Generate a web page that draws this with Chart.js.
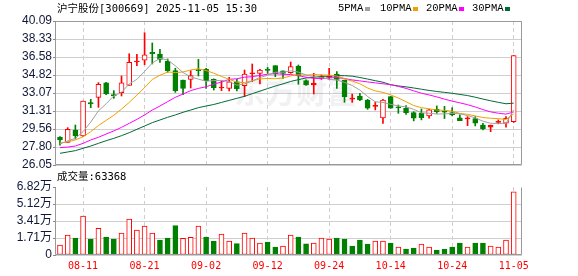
<!DOCTYPE html>
<html><head><meta charset="utf-8">
<script src="https://cdn.jsdelivr.net/npm/chart.js@4.4.1/dist/chart.umd.min.js"></script>
<style>
html,body{margin:0;padding:0;background:#fff;}
#wrap{position:relative;width:578px;height:276px;overflow:hidden;background:#fff;}
canvas{position:absolute;left:0;top:0;}
.t{position:absolute;white-space:pre;color:#000;line-height:14px;}
.cjk{font-family:'Noto Sans CJK SC';font-size:10.5px;}
.sq{position:absolute;width:5px;height:4px;}
</style></head><body>
<div id="wrap">
<canvas id="pc" width="578" height="276"></canvas>
<canvas id="vc" width="578" height="276"></canvas>
<div class="t" style="left:57px;top:1px;font-family:'DejaVu Sans Mono';font-size:10.5px;"><span class="cjk">沪宁股份</span>[300669] 2025-11-05 15:30</div>
<div class="t" style="left:338px;top:1px;font-family:'Liberation Mono';font-size:10.5px;">5PMA</div>
<div class="sq" style="left:365px;top:7px;background:#a0a0a0"></div>
<div class="t" style="left:380px;top:1px;font-family:'Liberation Mono';font-size:10.5px;">10PMA</div>
<div class="sq" style="left:413px;top:7px;background:#f0a000"></div>
<div class="t" style="left:426px;top:1px;font-family:'Liberation Mono';font-size:10.5px;">20PMA</div>
<div class="sq" style="left:459px;top:7px;background:#ff00ff"></div>
<div class="t" style="left:472px;top:1px;font-family:'Liberation Mono';font-size:10.5px;">30PMA</div>
<div class="sq" style="left:505px;top:7px;background:#006a35"></div>
<div class="t" style="left:57px;top:169px;font-family:'DejaVu Sans Mono';font-size:10.5px;"><span class="cjk">成交量</span>:63368</div>
</div>
<script>
// ---------- data ----------
const categories = ['08-06','08-07','08-08','08-11','08-12','08-13','08-14','08-15','08-18','08-19',
 '08-20','08-21','08-22','08-25','08-26','08-27','08-28','08-29','09-01','09-02',
 '09-03','09-04','09-05','09-08','09-09','09-10','09-11','09-12','09-15','09-16',
 '09-17','09-18','09-19','09-22','09-23','09-24','09-25','09-26','09-29','09-30',
 '10-09','10-10','10-13','10-14','10-15','10-16','10-17','10-20','10-21','10-22',
 '10-23','10-24','10-27','10-28','10-29','10-30','10-31','11-03','11-04','11-05'];
const dateTickLabels = ['08-11','08-21','09-02','09-12','09-24','10-14','10-24','11-05'];
const open  = [28.75,28.26,29.46,28.88,32.13,32.65,34.05,32.91,33.10,33.82,36.09,36.26,37.04,36.87,36.16,35.25,34.34,34.40,35.35,35.38,
 34.40,33.56,33.52,34.17,33.79,34.95,34.99,35.41,35.74,35.22,35.05,35.70,34.27,33.85,34.50,34.60,34.92,34.33,32.48,32.78,
 32.39,31.77,30.63,32.71,31.68,31.58,31.16,31.09,30.84,31.48,31.28,31.16,30.64,30.54,30.58,29.95,29.73,30.21,30.12,30.28];
const high  = [28.81,29.69,29.95,32.29,32.45,34.08,34.10,33.30,34.73,36.90,36.84,38.95,37.95,37.33,36.39,35.48,34.34,35.25,36.35,35.48,
 34.45,34.24,34.60,34.40,35.31,35.90,35.38,35.57,35.74,35.22,36.09,35.80,34.35,34.99,34.83,35.48,35.15,34.33,32.97,33.04,
 32.45,32.19,32.45,32.75,31.90,31.84,31.25,31.51,31.48,31.81,31.77,31.64,30.95,30.77,30.77,30.12,29.95,30.45,30.77,36.73];
const low   = [27.99,28.23,28.59,28.81,31.64,31.67,32.90,32.55,32.78,33.82,35.74,35.83,35.90,36.06,35.09,33.13,32.91,33.56,34.73,33.52,
 33.36,33.30,33.27,33.27,32.71,34.17,33.96,34.99,34.66,34.50,34.99,33.92,33.80,32.97,34.40,34.40,33.52,32.16,32.16,32.33,
 31.48,31.42,30.11,31.58,31.09,30.97,30.35,30.45,30.61,31.09,30.58,30.84,30.38,29.89,29.86,29.47,29.30,30.06,29.73,30.20];
const close = [28.49,29.53,28.91,32.29,32.00,33.92,32.97,32.78,34.05,36.06,36.16,36.78,36.91,36.35,35.25,33.30,33.52,34.76,35.25,34.27,
 33.59,33.62,34.17,33.49,34.92,35.02,35.31,35.28,34.92,34.99,35.64,34.73,33.85,34.04,34.66,34.70,34.40,32.71,32.55,32.39,
 31.58,31.84,32.39,31.60,31.62,31.16,30.62,30.66,31.42,31.25,31.19,30.94,30.38,30.61,30.12,29.57,29.92,30.28,30.61,36.73];
const prevClose = 28.20;
const volume = [10030,20060,17050,39110,16050,26750,18050,16050,22060,36100,25070,29080,22060,15040,17050,29400,16700,17700,29080,18050,
 14040,21060,14040,11360,22060,17050,12030,13040,8020,9030,20060,18050,11200,12030,17050,16050,17050,16050,9030,15040,
 11030,14040,14040,12030,8020,6020,7020,11030,8020,5010,6020,8020,12030,8020,12030,12030,9030,8020,15040,63368];
const ma5  = [28.10,28.40,28.65,29.30,30.24,31.33,32.02,32.79,33.14,33.96,34.40,35.17,35.99,36.45,36.29,35.72,35.07,34.64,34.42,34.22,
 34.28,34.30,34.18,33.83,33.96,34.24,34.58,34.80,35.09,35.10,35.23,35.11,34.83,34.65,34.58,34.40,34.33,34.10,33.80,33.35,
 32.73,32.21,32.15,31.96,31.81,31.72,31.48,31.13,31.10,31.02,31.03,31.09,31.04,30.87,30.65,30.32,30.12,30.10,30.10,31.42];
const ma10 = [28.20,28.30,28.50,28.80,29.30,29.90,30.40,30.90,31.50,32.15,32.87,33.59,34.39,34.80,35.12,35.06,35.12,35.31,35.43,35.26,
 35.00,34.68,34.41,34.12,34.09,34.26,34.44,34.49,34.46,34.53,34.74,34.85,34.82,34.87,34.84,34.81,34.72,34.46,34.23,33.97,
 33.56,33.27,33.13,32.88,32.58,32.22,31.85,31.64,31.53,31.41,31.38,31.29,31.08,30.99,30.84,30.68,30.61,30.57,30.49,31.04];
const ma20 = [27.74,27.80,27.90,28.16,28.49,28.75,29.07,29.37,29.72,30.11,30.50,30.93,31.41,31.80,32.23,32.65,32.97,33.30,33.52,33.68,
 33.93,34.14,34.40,34.46,34.61,34.66,34.78,34.90,34.95,34.89,34.87,34.76,34.61,34.50,34.47,34.54,34.58,34.48,34.34,34.25,
 34.15,34.06,33.97,33.88,33.71,33.52,33.28,33.05,32.88,32.69,32.47,32.28,32.11,31.93,31.71,31.45,31.23,31.10,31.01,31.22];
const ma30 = [27.19,27.32,27.45,27.68,27.90,28.16,28.42,28.65,28.91,29.20,29.53,29.85,30.18,30.44,30.70,30.93,31.19,31.41,31.64,31.80,
 31.95,32.15,32.35,32.55,32.75,33.00,33.25,33.50,33.75,33.96,34.20,34.37,34.54,34.60,34.69,34.71,34.76,34.76,34.71,34.58,
 34.43,34.27,34.12,33.88,33.76,33.67,33.56,33.44,33.32,33.22,33.13,33.04,32.93,32.82,32.66,32.48,32.31,32.16,32.02,32.08];
const priceTicks = [26.05,27.80,29.56,31.31,33.07,34.82,36.58,38.33,40.09];
const volTicks = [0,17050,34100,51150,68200];
const volTickLabels = ['0','1.71万','3.41万','5.12万','6.82万'];

// ---------- styles ----------
const RED = '#ff0000', GREEN = '#008000', GRID = '#cfcfcf', FRAME = '#999999';
const TICKFONT = {family: "'Liberation Sans','Noto Sans CJK SC'", size: 12};
const XMIN = -0.52, XMAX = 60.08;
const tickPos = dateTickLabels.map(d => categories.indexOf(d));
const idx = categories.map((_, i) => i);
const up = idx.map(i => close[i] >= open[i]);
const volUp = idx.map(i => close[i] >= (i === 0 ? prevClose : close[i - 1]));

function framePlugin(drawTop) {
  return {
    id: 'frame',
    afterDraw(chart) {
      const {ctx, chartArea: a} = chart;
      const L = Math.round(a.left) - 0.5, R = Math.round(a.right) - 0.5;
      const T = Math.round(a.top) + 0.5, B = Math.round(a.bottom) - 0.5;
      ctx.save();
      ctx.strokeStyle = FRAME; ctx.lineWidth = 1;
      ctx.beginPath();
      if (drawTop) { ctx.moveTo(L, T); ctx.lineTo(R, T); }
      ctx.moveTo(L, T); ctx.lineTo(L, B); ctx.lineTo(R, B); ctx.lineTo(R, T);
      ctx.stroke();
      ctx.restore();
    }
  };
}
const watermark = {
  id: 'wm',
  beforeDatasetsDraw(chart) {
    const {ctx} = chart;
    ctx.save();
    ctx.fillStyle = 'rgba(120,120,140,0.10)';
    ctx.font = "bold 31px 'Noto Sans CJK SC'";
    ctx.textBaseline = 'middle';
    ctx.fillText('东方财富', 234, 91);
    ctx.restore();
  }
};

function xAxis(showLabels) {
  return {
    type: 'linear', min: XMIN, max: XMAX, offset: false, bounds: 'ticks',
    afterBuildTicks: s => { s.ticks = tickPos.map(v => ({value: v})); },
    afterFit: s => { s.height = showLabels ? 21 : 0; },
    grid: {color: GRID, lineWidth: 1, drawTicks: false, offset: false},
    border: {display: false, dash: [4, 3]},
    ticks: {
      display: showLabels, autoSkip: false, maxRotation: 0, padding: 5,
      color: RED, font: {family: "'DejaVu Sans Mono'", size: 10},
      callback: (v, i) => dateTickLabels[i]
    }
  };
}

// ---------- price chart ----------
new Chart(document.getElementById('pc'), {
  data: {
    datasets: [
      {type: 'line', label: '5PMA', data: idx.map(i => ({x: i, y: ma5[i]})), borderColor: '#a0a0a0', borderWidth: 1, pointRadius: 0, order: -1},
      {type: 'line', label: '10PMA', data: idx.map(i => ({x: i, y: ma10[i]})), borderColor: '#f0a000', borderWidth: 1, pointRadius: 0, order: -1},
      {type: 'line', label: '20PMA', data: idx.map(i => ({x: i, y: ma20[i]})), borderColor: '#ff00ff', borderWidth: 1, pointRadius: 0, order: -1},
      {type: 'line', label: '30PMA', data: idx.map(i => ({x: i, y: ma30[i]})), borderColor: '#006a35', borderWidth: 1, pointRadius: 0, order: -1},
      {type: 'bar', label: 'body', data: idx.map(i => ({x: i, y: [open[i], close[i]]})),
        backgroundColor: c => up[c.dataIndex] ? (Math.abs(close[c.dataIndex] - open[c.dataIndex]) < 0.2 ? RED : '#ffffff') : GREEN,
        borderColor: c => up[c.dataIndex] ? RED : GREEN,
        borderWidth: 1, borderSkipped: false, barThickness: 5, minBarLength: 1, grouped: false, order: 0},
      {type: 'bar', label: 'wick', data: idx.map(i => ({x: i, y: [low[i], high[i]]})),
        backgroundColor: c => up[c.dataIndex] ? RED : GREEN,
        borderWidth: 0, barThickness: 1, grouped: false, order: 1}
    ]
  },
  options: {
    responsive: false, animation: false, devicePixelRatio: 1,
    layout: {padding: {left: 0, right: 56, top: 21, bottom: 111}},
    plugins: {legend: {display: false}, tooltip: {enabled: false}},
    scales: {
      x: xAxis(false),
      y: {
        type: 'linear', min: 26.05, max: 40.09,
        afterBuildTicks: s => { s.ticks = priceTicks.map(v => ({value: v})); },
        afterFit: s => { s.width = 56; },
        grid: {color: GRID, tickLength: 3, tickColor: '#888'},
        border: {display: false},
        ticks: {color: '#101838', font: TICKFONT, padding: 1, autoSkip: false, callback: v => v.toFixed(2)}
      }
    }
  },
  plugins: [watermark, framePlugin(true)]
});

// ---------- volume chart ----------
new Chart(document.getElementById('vc'), {
  type: 'bar',
  data: {
    datasets: [{
      label: 'vol', data: idx.map(i => ({x: i, y: volume[i]})),
      backgroundColor: c => volUp[c.dataIndex] ? '#ffffff' : GREEN,
      borderColor: c => volUp[c.dataIndex] ? RED : GREEN,
      borderWidth: 1, borderSkipped: false, barThickness: 5, grouped: false
    }]
  },
  options: {
    responsive: false, animation: false, devicePixelRatio: 1,
    layout: {padding: {left: 0, right: 56, top: 187, bottom: 0}},
    plugins: {legend: {display: false}, tooltip: {enabled: false}},
    scales: {
      x: xAxis(true),
      y: {
        type: 'linear', min: 0, max: 68200,
        afterBuildTicks: s => { s.ticks = volTicks.map(v => ({value: v})); },
        afterFit: s => { s.width = 56; },
        grid: {color: c => (c.tick && c.tick.value === 68200) ? 'rgba(0,0,0,0)' : GRID, tickLength: 3, tickColor: '#888'},
        border: {display: false},
        ticks: {color: '#101838', font: TICKFONT, padding: 1, autoSkip: false, callback: (v, i) => volTickLabels[i]}
      }
    }
  },
  plugins: [framePlugin(false)]
});
</script>
</body></html>
